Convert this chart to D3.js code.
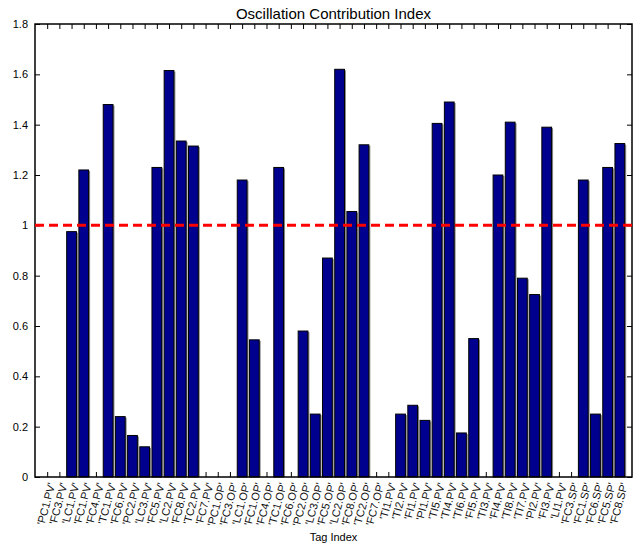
<!DOCTYPE html>
<html>
<head>
<meta charset="utf-8">
<script src="https://cdn.jsdelivr.net/npm/d3@7"></script>
<style>
  body { margin: 0; background: #fff; }
  text { font-family: "Liberation Sans", Arial, sans-serif; }
</style>
</head>
<body>
<div id="canvas"></div>
<script>
const tags = ["PC1.PV", "FC3.PV", "LC1.PV", "FC1.PV", "FC4.PV", "TC1.PV", "FC6.PV", "PC2.PV",
  "LC3.PV", "FC5.PV", "LC2.PV", "FC8.PV", "TC2.PV", "FC7.PV", "PC1.OP", "FC3.OP",
  "LC1.OP", "FC1.OP", "FC4.OP", "TC1.OP", "FC6.OP", "PC2.OP", "LC3.OP", "FC5.OP",
  "LC2.OP", "FC8.OP", "TC2.OP", "FC7.OP", "TI1.PV", "TI2.PV", "FI1.PV", "PI1.PV",
  "TI5.PV", "TI4.PV", "TI6.PV", "FI5.PV", "TI3.PV", "FI4.PV", "TI8.PV", "TI7.PV",
  "PI2.PV", "FI3.PV", "LI1.PV", "FC3.SP", "FC1.SP", "FC6.SP", "FC5.SP", "FC8.SP"];
const values = [0, 0, 0.975, 1.22, 0, 1.48, 0.24, 0.165,
  0.12, 1.23, 1.615, 1.335, 1.315, 0, 0, 0,
  1.18, 0.545, 0, 1.23, 0, 0.58, 0.25, 0.87,
  1.62, 1.055, 1.32, 0, 0, 0.25, 0.285, 0.225,
  1.405, 1.49, 0.175, 0.55, 0, 1.2, 1.41, 0.79,
  0.725, 1.39, 0, 0, 1.18, 0.25, 1.23, 1.325];
const yTicks = [0, 0.2, 0.4, 0.6, 0.8, 1, 1.2, 1.4, 1.6, 1.8];
const threshold = 1;

const width = 641;
const height = 545;
const margin = { top: 24, left: 35, bottom: 68, right: 9 };
const iwidth = width - margin.left - margin.right;
const iheight = height - margin.top - margin.bottom;

const data = tags.map((t, i) => ({ idx: i + 1, name: t, value: values[i] }));

const svg = d3.select("#canvas").append("svg")
  .attr("width", width)
  .attr("height", height);

svg.append("rect").attr("width", width).attr("height", height).attr("fill", "#fff");

const g = svg.append("g").attr("transform", `translate(${margin.left},${margin.top})`);

// matlab style: bars at 1..n, limits 0..n+1
const x = d3.scaleLinear().domain([0, tags.length + 1]).range([0, iwidth]);
const y = d3.scaleLinear().domain([0, 1.8]).range([iheight, 0]);
const bw = (x(1) - x(0)) * 0.8;

// axes (ticks first so bars cover them)
const xAxis = d3.axisBottom(x)
  .tickValues(data.map(d => d.idx))
  .tickFormat(i => `'${tags[i - 1]}'`)
  .tickSizeInner(-5)
  .tickSizeOuter(0)
  .tickPadding(6);

const gx = g.append("g")
  .attr("class", "axis axis--x")
  .attr("transform", `translate(0,${iheight})`)
  .call(xAxis);
gx.select(".domain").remove();
gx.selectAll(".tick line").attr("stroke", "#000");
gx.selectAll("text")
  .attr("font-size", 11)
  .attr("fill", "#111")
  .attr("text-anchor", "end")
  .attr("dy", "0.35em")
  .attr("transform", "translate(4,6) rotate(-75)")
  .attr("x", 0)
  .attr("y", 0);

const gxt = g.append("g")
  .attr("class", "axis axis--x-top")
  .call(d3.axisTop(x).tickValues(data.map(d => d.idx)).tickSizeInner(-5).tickSizeOuter(0).tickFormat(""));
gxt.select(".domain").remove();

const gy = g.append("g")
  .attr("class", "axis axis--y")
  .call(d3.axisLeft(y).tickValues(yTicks).tickFormat(d3.format("~g")).tickSizeInner(-5).tickSizeOuter(0).tickPadding(7));
gy.select(".domain").remove();
gy.selectAll("text").attr("font-size", 11);

const gyr = g.append("g")
  .attr("transform", `translate(${iwidth},0)`)
  .call(d3.axisRight(y).tickValues(yTicks).tickSizeInner(-5).tickSizeOuter(0).tickFormat(""));
gyr.select(".domain").remove();

// bars (with a grey shadow on the right edge)
g.selectAll(".shadow")
  .data(data.filter(d => d.value > 0))
  .enter().append("rect")
  .attr("class", "shadow")
  .attr("x", d => x(d.idx) - bw / 2 + 1.5)
  .attr("y", d => y(d.value) + 1)
  .attr("width", bw)
  .attr("height", d => iheight - y(d.value) - 1)
  .attr("fill", "#8a8a8a");

g.selectAll(".bar")
  .data(data.filter(d => d.value > 0))
  .enter().append("rect")
  .attr("class", "bar")
  .attr("x", d => x(d.idx) - bw / 2)
  .attr("y", d => y(d.value))
  .attr("width", bw)
  .attr("height", d => iheight - y(d.value))
  .attr("fill", "#00008f")
  .attr("stroke", "#000")
  .attr("stroke-width", 1);

// box
g.append("rect")
  .attr("width", iwidth)
  .attr("height", iheight)
  .attr("fill", "none")
  .attr("stroke", "#000")
  .attr("stroke-width", 1.5);

// threshold line
g.append("line")
  .attr("x1", 0)
  .attr("x2", iwidth)
  .attr("y1", y(threshold))
  .attr("y2", y(threshold))
  .attr("stroke", "#f00")
  .attr("stroke-width", 3)
  .attr("stroke-dasharray", "9,5");

svg.append("text")
  .attr("x", margin.left + iwidth / 2)
  .attr("y", 19)
  .attr("text-anchor", "middle")
  .attr("font-size", 15)
  .text("Oscillation Contribution Index");

svg.append("text")
  .attr("x", margin.left + iwidth / 2)
  .attr("y", 541)
  .attr("text-anchor", "middle")
  .attr("font-size", 11)
  .text("Tag Index");
</script>
</body>
</html>
